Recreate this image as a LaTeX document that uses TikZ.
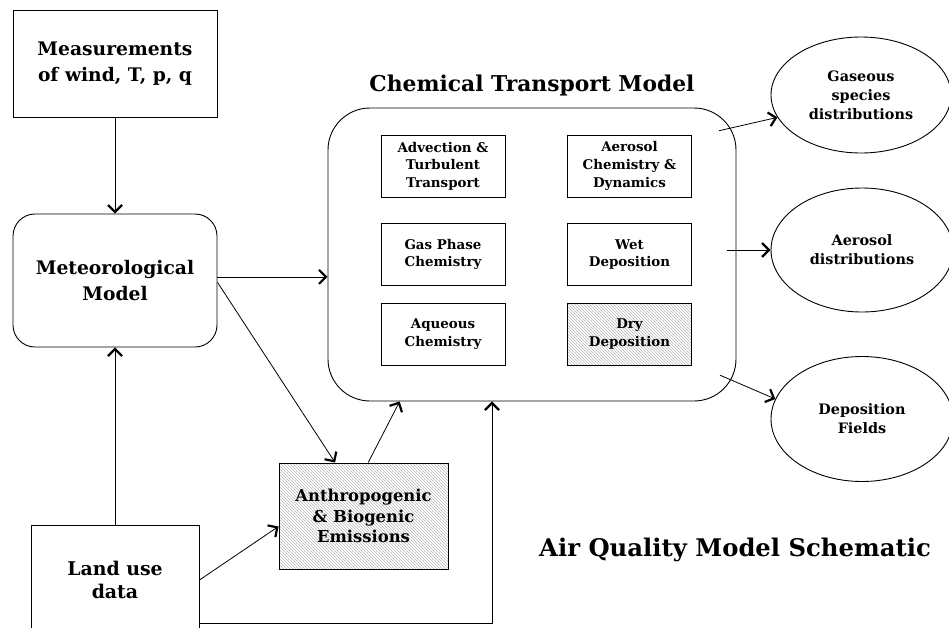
\documentclass[tikz,border=0pt]{standalone}
\usepackage{fontspec}
\setmainfont{DejaVu Serif}
\usetikzlibrary{arrows.meta,patterns,shapes.geometric}

\begin{document}
\begin{tikzpicture}[x=1pt,y=-1pt,
    modbox/.style={rectangle, draw, line width=0.9pt, align=center, inner sep=0pt},
    bigtext/.style={font=\bfseries\fontsize{18.7}{25.5}\selectfont},
    smalltext/.style={font=\bfseries\fontsize{13.4}{17.7}\selectfont},
    procbox/.style={modbox, smalltext, minimum width=124, minimum height=62},
    hatched/.style={pattern=north west lines, pattern color=gray!55},
    oval/.style={ellipse, draw, line width=0.9pt, align=center, inner sep=0pt,
        font=\bfseries\fontsize{14.4}{19}\selectfont},
    arr/.style={-{Straight Barb[length=7pt,width=14pt,line width=2.2pt]}, line width=0.8pt},
    outarr/.style={arr, shorten <=-18pt}]
    \useasboundingbox (0,0) rectangle (949,627);

    % inputs
    \node[modbox, bigtext, minimum width=204, minimum height=107] (meas) at (115,63.5) {Measurements\\of wind, T, p, q};
    \node[modbox, bigtext, rounded corners=22, minimum width=204, minimum height=133] (met) at (115,280.5) {Meteorological\\Model};
    \node[modbox, font=\bfseries\fontsize{18.9}{23}\selectfont, minimum width=168, minimum height=110] (land) at (115,580) {Land use\\data};
    \node[modbox, hatched, font=\bfseries\fontsize{16.4}{20.5}\selectfont, minimum width=169, minimum height=106] (emis) at (363.5,516) {Anthropogenic\\\& Biogenic\\Emissions};

    % chemical transport model
    \node[modbox, rounded corners=42, minimum width=408, minimum height=293] (ctm) at (532,254.5) {};
    \node[font=\bfseries\fontsize{21.8}{26}\selectfont] (ctmtitle) at (532,85) {Chemical Transport Model};
    \node[procbox] (advect) at (443,166) {Advection \&\\Turbulent\\Transport};
    \node[procbox] (aerochem) at (629.5,166) {Aerosol\\Chemistry \&\\Dynamics};
    \node[procbox] (gasphase) at (443,254.5) {Gas Phase\\Chemistry};
    \node[procbox] (wetdep) at (629.5,254.5) {Wet\\Deposition};
    \node[procbox] (aqueous) at (443,334) {Aqueous\\Chemistry};
    \node[procbox, hatched] (drydep) at (629.5,334) {Dry\\Deposition};

    % outputs
    \node[oval, minimum width=180, minimum height=116] (gasdist) at (861,95) {Gaseous\\species\\distributions};
    \node[oval, minimum width=182, minimum height=124] (aerdist) at (862,250) {Aerosol\\distributions};
    \node[oval, minimum width=182, minimum height=125] (depfields) at (862,419) {Deposition\\Fields};

    \node[font=\bfseries\fontsize{24.3}{29}\selectfont] (aqtitle) at (735,550) {Air Quality Model Schematic};

    \coordinate (bend) at (492,623);

    \draw[arr] (meas) -- (met);
    \draw[arr] (land) -- (met);
    \draw[arr] (met.2) -- (met.2 -| ctm.west);
    \draw[arr] (met.-1) -- (emis.118);
    \draw[arr] (emis.85) -- (ctm.228);
    \draw[arr] (land.east) -- (emis.187);
    \draw[arr] (land.east |- bend) -- (bend) -- (bend |- ctm.south);
    \draw[outarr] (ctm.32) -- (gasdist.195);
    \draw[outarr, shorten <=-9pt] (ctm.east |- aerdist.west) -- (aerdist.west);
    \draw[outarr] (ctm.-32) -- (depfields.167);
\end{tikzpicture}
\end{document}
